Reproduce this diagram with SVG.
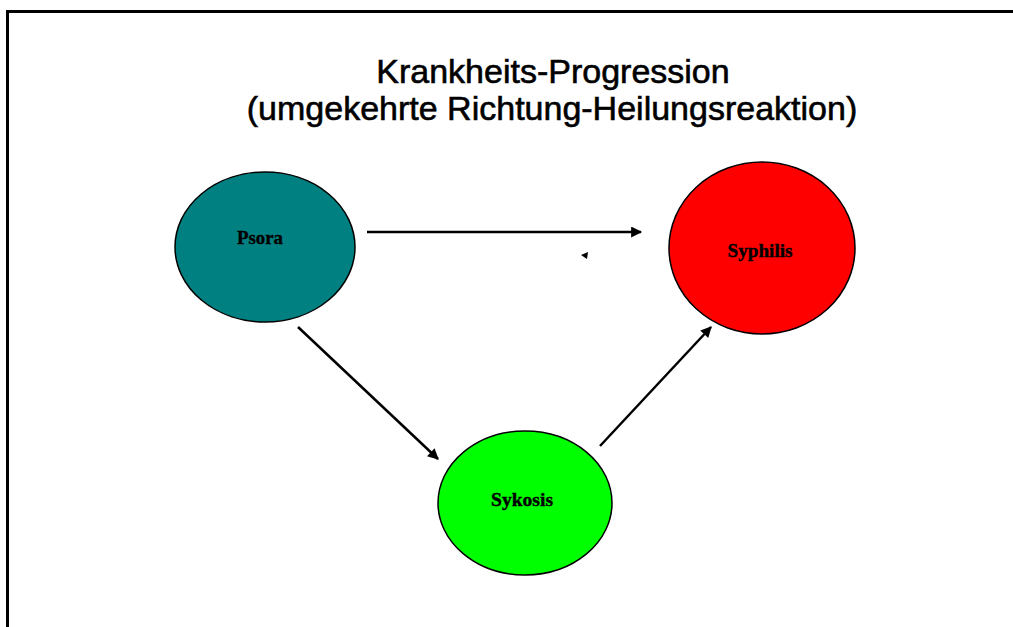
<svg xmlns="http://www.w3.org/2000/svg" width="1013" height="627" viewBox="0 0 1013 627">
<style>
.title{font-family:"Liberation Sans",Arial,sans-serif;font-size:34px;fill:#000;stroke:#000;stroke-width:0.6;text-anchor:middle}
.node{stroke:#000;stroke-width:1.5}
.lbl{font-family:"Liberation Serif","Times New Roman",serif;font-size:19px;font-weight:bold;fill:#000;stroke:#000;stroke-width:0.4;text-anchor:middle}
.edge{stroke:#000;stroke-width:2.5;fill:none;marker-end:url(#ah)}
</style>
<defs>
<marker id="ah" viewBox="0 0 10 10" refX="9" refY="5" markerWidth="5" markerHeight="4.4" orient="auto" markerUnits="strokeWidth">
<path d="M0,0 L10,5 L0,10 z" fill="#000"/>
</marker>
</defs>
<rect width="1013" height="627" fill="#fff"/>
<path d="M7.5,627 V11.5 H1013" stroke="#000" stroke-width="3" fill="none"/>
<g id="title">
<text class="title" x="553" y="83">Krankheits-Progression</text>
<text class="title" x="552" y="120">(umgekehrte Richtung-Heilungsreaktion)</text>
</g>
<g id="connectors">
<line class="edge" x1="367" y1="232" x2="641" y2="232"/>
<line class="edge" x1="298" y1="327" x2="438" y2="459"/>
<line class="edge" x1="600" y1="446" x2="711" y2="327"/>
<polygon points="581,255 588,252 587,259" fill="#000"/>
</g>
<g id="psora">
<ellipse class="node" cx="265" cy="247" rx="90" ry="75" fill="#008080"/>
<text class="lbl" x="260" y="244" textLength="46" lengthAdjust="spacingAndGlyphs">Psora</text>
</g>
<g id="syphilis">
<ellipse class="node" cx="762" cy="248" rx="93" ry="86" fill="#ff0000"/>
<text class="lbl" x="760" y="257" textLength="65" lengthAdjust="spacingAndGlyphs">Syphilis</text>
</g>
<g id="sykosis">
<ellipse class="node" cx="525" cy="503" rx="87" ry="72" fill="#00ff00"/>
<text class="lbl" x="522" y="506" textLength="62" lengthAdjust="spacingAndGlyphs">Sykosis</text>
</g>
</svg>
